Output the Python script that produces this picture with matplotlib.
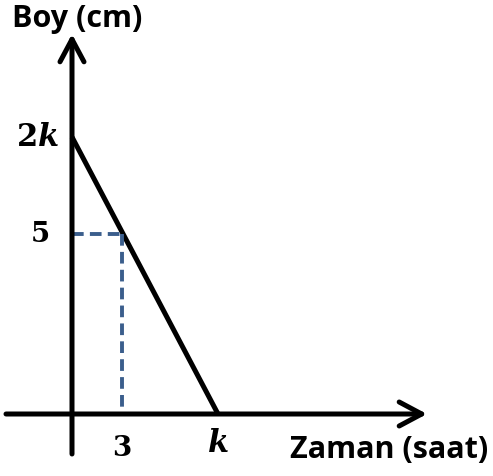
import matplotlib
matplotlib.use("Agg")
import matplotlib.pyplot as plt

# Diagram values (schematic units; origin at axes crossing)
line_x = [0.0, 14.6]      # from (0, 2k) down to (k, 0)
line_y = [27.7, 0.0]
point_x = 5.0             # position of "3"
point_y = 18.0            # position of "5"
xtick_pos = [5.0, 14.6]
xtick_lab = ["3", r"$\boldsymbol{k}$"]
ytick_pos = [27.7, 18.0]
ytick_lab = [r"2$\boldsymbol{k}$", "5"]
xlabel = "Zaman (saat)"
ylabel = "Boy (cm)"

plt.rcParams["mathtext.fontset"] = "dejavuserif"

fig = plt.figure(figsize=(4.93, 4.77), dpi=100)
ax = fig.add_axes([0, 0, 1, 1])
ax.set_xlim(-7.2, 42.1)
ax.set_ylim(-6.2, 41.5)
ax.axis("off")

black = "black"
lw_axis = 3.6

# axes with arrows
astyle = "->,head_length=0.45,head_width=0.24"
ax.annotate("", xy=(35.5, 0), xytext=(-6.6, 0),
            arrowprops=dict(arrowstyle=astyle, lw=lw_axis, color=black,
                            shrinkA=0, shrinkB=0, mutation_scale=36))
ax.annotate("", xy=(0, 38.0), xytext=(0, -4.0),
            arrowprops=dict(arrowstyle=astyle, lw=lw_axis, color=black,
                            shrinkA=0, shrinkB=0, mutation_scale=36))

# main line
ax.plot(line_x, line_y, color=black, lw=3.6, solid_capstyle="butt")

# dashed guides
dash_col = "#3b5e8c"
ax.plot([0, point_x], [point_y, point_y], color=dash_col, lw=2.8,
        dashes=(3.0, 1.6))
ax.plot([point_x, point_x], [point_y, 0], color=dash_col, lw=2.8,
        dashes=(3.0, 1.6))

serif = dict(family="DejaVu Serif", weight="bold", fontsize=20)
# y tick labels
ax.text(-1.3, ytick_pos[0], ytick_lab[0], ha="right", va="center",
        family="DejaVu Serif", weight="bold", fontsize=22)
ax.text(-2.2, ytick_pos[1], ytick_lab[1], ha="right", va="center", **serif)
# x tick labels
ax.text(xtick_pos[0], -2.0, xtick_lab[0], ha="center", va="top", **serif)
ax.text(xtick_pos[1], -1.3, xtick_lab[1], ha="center", va="top",
        family="DejaVu Serif", weight="bold", fontsize=22)

sans = dict(family="Open Sans", weight="bold", fontsize=22)
ax.text(41.6, -3.5, xlabel, ha="right", va="center", **sans)
ax.text(-6.0, 39.6, ylabel, ha="left", va="center", **sans)

fig.savefig("out.png", dpi=100)
